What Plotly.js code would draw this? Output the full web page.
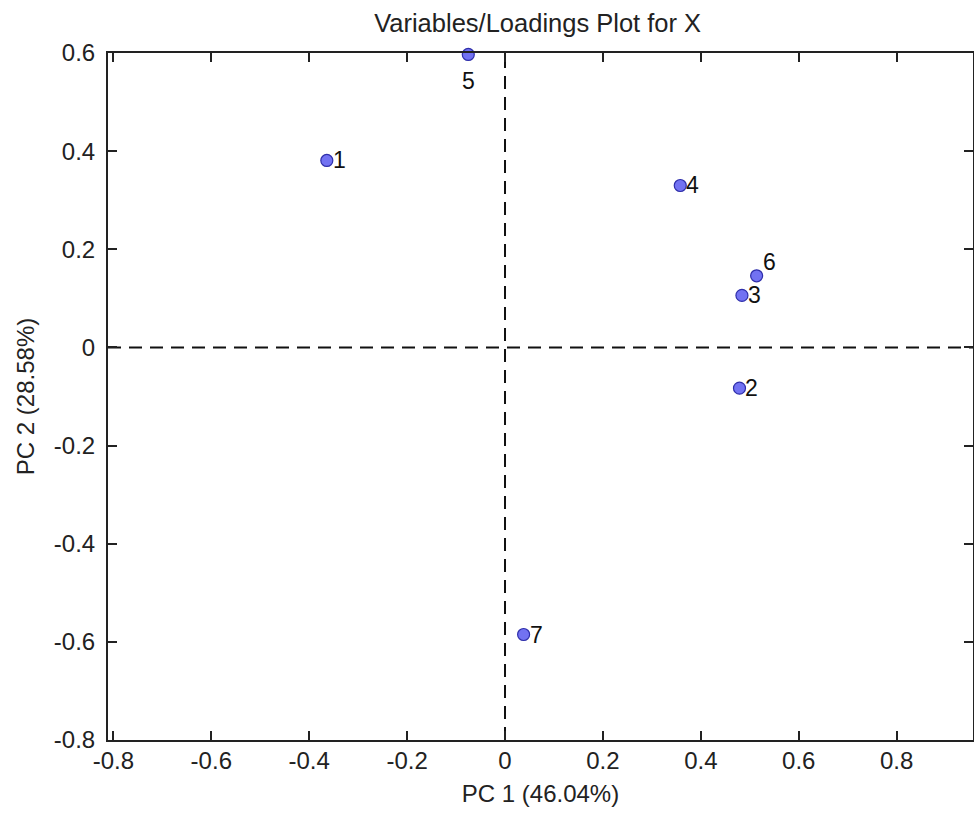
<!DOCTYPE html>
<html>
<head>
<meta charset="utf-8">
<script src="https://cdn.plot.ly/plotly-3.0.1.min.js"></script>
<style>html,body{margin:0;padding:0;background:#fff;}#chart{width:974px;height:817px;}</style>
</head>
<body>
<div id="chart"></div>
<script>
const labels = ["1", "2", "3", "4", "5", "6", "7"];
const pc1 = [-0.364, 0.479, 0.484, 0.358, -0.075, 0.514, 0.038];
const pc2 = [0.381, -0.083, 0.106, 0.330, 0.597, 0.146, -0.585];
// label placement relative to each marker: "r" = right, "ur" = upper right, "b" = below
const labelPlace = ["r", "r", "r", "r", "b", "ur", "r"];
const xTicks = [-0.8, -0.6, -0.4, -0.2, 0, 0.2, 0.4, 0.6, 0.8];
const yTicks = [-0.8, -0.6, -0.4, -0.2, 0, 0.2, 0.4, 0.6];

const fam = "Liberation Sans, Arial, sans-serif";
const font = {family: fam, size: 24, color: "#222"};

const trace = {
  x: pc1, y: pc2, type: "scatter", mode: "markers",
  marker: {size: 12, color: "#7272f2", line: {color: "#2e2eaa", width: 1.2}},
  cliponaxis: false, hoverinfo: "none"
};

const placeStyle = {
  r:  {xanchor: "left", yanchor: "middle", xshift: 4, yshift: 0},
  ur: {xanchor: "left", yanchor: "middle", xshift: 4, yshift: 14},
  b:  {xanchor: "center", yanchor: "middle", xshift: 0, yshift: -27}
};

const annotations = labels.map((t, i) => Object.assign({
  x: pc1[i], y: pc2[i], xref: "x", yref: "y", text: t, showarrow: false,
  font: {family: fam, size: 23, color: "#111"}
}, placeStyle[labelPlace[i]]));

const axisCommon = {
  showgrid: false, zeroline: false, showline: true, mirror: "ticks",
  linecolor: "#222", linewidth: 2, ticks: "inside", ticklen: 9, tickwidth: 2,
  tickcolor: "#222", tickfont: font
};

const layout = {
  width: 974, height: 817,
  margin: {l: 108, r: 1, t: 53, b: 77},
  paper_bgcolor: "#fff", plot_bgcolor: "#fff",
  showlegend: false,
  title: {text: "Variables/Loadings Plot for X", font: {family: fam, size: 25.5, color: "#222"}, x: 0.552, xanchor: "center", y: 0.972, yanchor: "middle"},
  xaxis: Object.assign({}, axisCommon, {
    range: [-0.811, 0.956], tickvals: xTicks, ticktext: xTicks.map(v => String(v)),
    ticklabelstandoff: -2,
    title: {text: "PC 1 (46.04%)", font: font, standoff: 12}
  }),
  yaxis: Object.assign({}, axisCommon, {
    range: [-0.8, 0.6], tickvals: yTicks, ticktext: yTicks.map(v => String(v)),
    ticklabelstandoff: 6,
    title: {text: "PC 2 (28.58%)", font: font, standoff: 12}
  }),
  annotations: annotations,
  shapes: [
    {type: "line", xref: "x", yref: "paper", x0: 0, x1: 0, y0: 0, y1: 1,
     line: {color: "#111", width: 2, dash: "13px,8px"}, layer: "below"},
    {type: "line", xref: "paper", yref: "y", x0: 0, x1: 1, y0: 0, y1: 0,
     line: {color: "#111", width: 2, dash: "13px,8px"}, layer: "below"}
  ]
};

Plotly.newPlot("chart", [trace], layout, {displayModeBar: false, staticPlot: true});
</script>
</body>
</html>
